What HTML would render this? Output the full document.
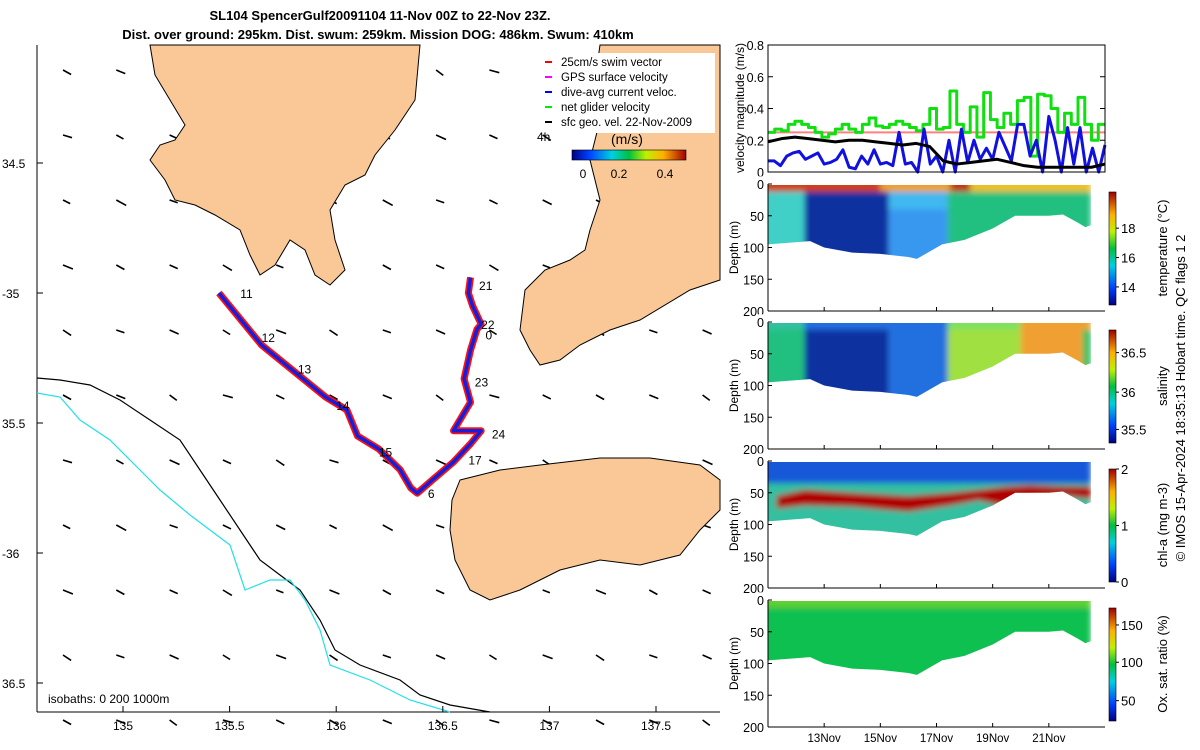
<!DOCTYPE html>
<html><head><meta charset="utf-8"><style>
html,body{margin:0;padding:0;background:#fff;}
svg{display:block;font-family:"Liberation Sans",sans-serif;}
</style></head><body>
<svg id="s" width="1200" height="750" viewBox="0 0 1200 750">
<defs>
<linearGradient id="jet" x1="0" y1="1" x2="0" y2="0">
<stop offset="0" stop-color="#000080"/><stop offset="0.15" stop-color="#0040ff"/><stop offset="0.35" stop-color="#00d0e0"/><stop offset="0.5" stop-color="#00c040"/><stop offset="0.65" stop-color="#c0f000"/><stop offset="0.8" stop-color="#ffb000"/><stop offset="1" stop-color="#a00000"/>
</linearGradient>
<linearGradient id="jeth" x1="0" y1="0" x2="1" y2="0">
<stop offset="0" stop-color="#000080"/><stop offset="0.15" stop-color="#0040ff"/><stop offset="0.35" stop-color="#00d0e0"/><stop offset="0.5" stop-color="#00c040"/><stop offset="0.65" stop-color="#c0f000"/><stop offset="0.8" stop-color="#ffb000"/><stop offset="1" stop-color="#a00000"/>
</linearGradient>
<filter id="soft" x="0" y="0" width="1" height="1"><feGaussianBlur stdDeviation="3"/></filter>
</defs>
<text x="380" y="20" text-anchor="middle" font-size="13" font-weight="bold">SL104 SpencerGulf20091104 11-Nov 00Z to 22-Nov 23Z.</text>
<text x="378" y="39" text-anchor="middle" font-size="13" font-weight="bold">Dist. over ground: 295km. Dist. swum: 259km. Mission DOG: 486km. Swum: 410km</text>
<g id="map"></g>
<g id="right"></g>
<text transform="translate(1185,398) rotate(-90)" text-anchor="middle" font-size="13">© IMOS 15-Apr-2024 18:35:13 Hobart time. QC flags 1  2</text>
</svg>
<script>
const NS="http://www.w3.org/2000/svg";
function mk(p,t,a){const e=document.createElementNS(NS,t);for(const k in a)e.setAttribute(k,a[k]);p.appendChild(e);return e;}
const map=document.getElementById('map'), right=document.getElementById('right');

// ---- map data ----
const lonTicks=[135,135.5,136,136.5,137,137.5];
const latTicks=[-34.5,-35,-35.5,-36,-36.5];
const latLabels=["34.5","-35","35.5","-36","36.5"];
const trackLon=[135.45,135.55,135.65,135.8,135.95,136.05,136.1,136.2,136.3,136.35,136.38,136.45,136.55,136.63,136.68,136.6,136.55,136.63,136.6,136.63,136.66,136.68,136.64,136.62,136.63];
const trackLat=[-35.0,-35.1,-35.2,-35.3,-35.4,-35.45,-35.55,-35.6,-35.68,-35.75,-35.77,-35.72,-35.65,-35.58,-35.53,-35.53,-35.53,-35.42,-35.33,-35.22,-35.14,-35.12,-35.05,-35.0,-34.94];
const wpLabels=["11","12","13","14","15","6","17","24","23","0","22","21"];
const wpLon=[135.55,135.65,135.82,136.0,136.2,136.43,136.62,136.73,136.65,136.7,136.68,136.67];
const wpLat=[-35.0,-35.17,-35.29,-35.43,-35.61,-35.77,-35.64,-35.54,-35.34,-35.16,-35.12,-34.97];
const arrowU=[0.45,0.5,0.4,0.55,0.45];
const arrowV=[-0.25,-0.2,-0.3,-0.15,-0.22];

const X=l=>123+(l-135)*213.2, Y=l=>163+(-34.5-l)*260;
mk(map,'line',{x1:37,y1:45,x2:37,y2:712,stroke:'#000','stroke-width':1,});
mk(map,'line',{x1:37,y1:712,x2:720,y2:712,stroke:'#000','stroke-width':1,});
const ag=mk(map,'g',{});


for(let r=0;r<11;r++)for(let c=0;c<13;c++){
  const x=63+c*53.3,y=70+r*65;
  const u=arrowU[(r+c)%5]*18,v=-arrowV[(r*3+c)%5]*18;
  const l=mk(ag,'line',{x1:x,y1:y,x2:x+u,y2:y+v,stroke:'#000','stroke-width':1.6});
  
  
}
const iso1=mk(map,'polyline',{points:"37,378 60,380 90,385 120,400 150,420 180,440 200,470 220,500 240,530 260,560 280,575 300,590 320,620 335,650 360,665 400,680 420,695 450,705 490,712",fill:'none',stroke:'#000','stroke-width':1.2});

const iso2=mk(map,'polyline',{points:"37,393 60,397 80,420 110,440 140,470 160,490 190,515 230,545 245,590 270,580 290,580 305,600 320,630 330,665 370,680 410,700 450,712",fill:'none',stroke:'#20e0e8','stroke-width':1.2});

const lands=[
 ["eyre-peninsula","150,45 420,45 415,100 395,130 375,155 365,175 345,185 330,210 335,240 345,270 330,285 315,275 305,250 290,240 275,265 260,275 250,255 240,230 215,215 195,205 175,200 165,180 150,160 160,145 175,140 185,125 170,100 155,75"],
 ["yorke-peninsula","600,45 720,45 720,280 690,290 640,320 610,330 580,345 560,360 540,365 530,350 520,330 525,290 545,270 570,260 585,250 590,230 600,200 590,160 600,120 595,80"],
 ["kangaroo-island","460,480 500,470 540,465 600,458 650,458 700,465 720,480 720,510 700,530 680,555 660,560 640,565 600,560 560,570 520,590 490,600 470,590 455,560 450,530 452,500"]];
lands.forEach(L=>{const p=mk(map,'polygon',{points:L[1],fill:'#f9c896',stroke:'#000','stroke-width':1});});
const pts=trackLon.map((l,i)=>X(l)+','+Y(trackLat[i])).join(' ');
const t1=mk(map,'polyline',{points:pts,fill:'none',stroke:'#ff1010','stroke-width':7,'stroke-linejoin':'round'});

const t2=mk(map,'polyline',{points:pts,fill:'none',stroke:'#1020e0','stroke-width':3.5,'stroke-linejoin':'round'});

wpLabels.forEach((s,i)=>{const t=mk(map,'text',{x:X(wpLon[i]),y:Y(wpLat[i])+5,'font-size':12});t.textContent=s;
 });
lonTicks.forEach(l=>{const x=X(l);mk(map,'line',{x1:x,y1:712,x2:x,y2:706,stroke:'#000'});
 const t=mk(map,'text',{x:x,y:730,'text-anchor':'middle','font-size':12});t.textContent=String(l);
 });
latTicks.forEach((l,i)=>{const y=Y(l);mk(map,'line',{x1:37,y1:y,x2:43,y2:y,stroke:'#000'});
 const t=mk(map,'text',{x:2,y:y+5,'font-size':12});t.textContent=latLabels[i];
 });
const legTxt=["25cm/s swim vector","GPS surface velocity","dive-avg current veloc.","net glider velocity","sfc geo. vel. 22-Nov-2009"];
const legCol=["#f00","#f0f","#00f","#0e0","#000"];
mk(map,'rect',{x:540,y:53,width:175,height:80,fill:'#fff'});
legTxt.forEach((s,i)=>{const y=62+i*15;mk(map,'line',{x1:545,y1:y,x2:552,y2:y,stroke:legCol[i],'stroke-width':2});
 const t=mk(map,'text',{x:561,y:y+4,'font-size':11.5});t.textContent=s;
 });
let t=mk(map,'text',{x:537,y:141,'font-size':12});t.textContent='4h';
t=mk(map,'text',{x:611,y:144,'font-size':14});t.textContent='(m/s)';
let cb=mk(map,'rect',{x:572,y:150,width:114,height:10,fill:'url(#jeth)',stroke:'#000','stroke-width':0.6});

[["0",583],["0.2",619],["0.4",665]].forEach(a=>{const t=mk(map,'text',{x:a[1],y:178,'text-anchor':'middle','font-size':12});t.textContent=a[0];});
t=mk(map,'text',{x:48,y:703,'font-size':12});t.textContent='isobaths: 0   200  1000m';

// ---- velocity panel data ----
const green=[0.25,0.27,0.26,0.3,0.32,0.3,0.28,0.25,0.22,0.24,0.27,0.3,0.27,0.25,0.3,0.34,0.29,0.28,0.3,0.32,0.3,0.28,0.26,0.3,0.4,0.27,0.28,0.51,0.3,0.25,0.41,0.22,0.5,0.33,0.28,0.37,0.3,0.45,0.47,0.1,0.49,0.48,0.4,0.25,0.37,0.3,0.47,0.3,0.2,0.3];
const blue=[0.07,0.07,0.04,0.1,0.12,0.13,0.08,0.1,0.12,0.05,0.06,0.08,0.14,0.03,0.02,0.1,0.05,0.14,0.05,0.06,0.04,0.25,0.05,0.06,0.0,0.27,0.05,0.1,0.0,0.2,0.0,0.27,0.06,0.2,0.08,0.15,0.08,0.25,0.16,0.07,0.3,0.3,0.1,0.2,0.0,0.35,0.2,0.0,0.28,0.05,0.28,0.0,0.15,0.0,0.17];
const black=[0.19,0.21,0.22,0.21,0.2,0.19,0.2,0.2,0.19,0.18,0.17,0.18,0.16,0.07,0.05,0.06,0.07,0.08,0.06,0.04,0.03,0.03,0.03,0.03,0.03,0.05];
const swim=[0.25,0.25];
const velTicks=[0,0.2,0.4,0.6,0.8];
const dayTicks=[2,4,6,8,10];
const dayLabels=["13Nov","15Nov","17Nov","19Nov","21Nov"];
const T0=768,T1=1105,NDAYS=12;
const TX=d=>T0+d*(T1-T0)/NDAYS;
const VY=v=>172-v*158.75;
function series(arr,col,w,step,name){
  let p=[];const n=arr.length;
  arr.forEach((v,i)=>{const x0=TX(i*NDAYS/n),x1=TX((i+1)*NDAYS/n);
    if(step){p.push(x0+','+VY(v));p.push(x1+','+VY(v));}else p.push(TX(i*NDAYS/(n-1))+','+VY(v));});
  const l=mk(right,'polyline',{points:p.join(' '),fill:'none',stroke:col,'stroke-width':w,'stroke-linejoin':'round'});
  
}
series(swim,'#ff8080',2,true,'swim-speed-line');
series(green,'#10e010',3,true,'net-glider-velocity-line');
series(blue,'#1010e0',3,false,'dive-avg-current-line');
series(black,'#000',3,false,'geostrophic-velocity-line');
mk(right,'rect',{x:T0,y:45,width:T1-T0,height:127,fill:'none',stroke:'#000','stroke-width':1});
velTicks.forEach(v=>{const y=VY(v);mk(right,'line',{x1:T0,y1:y,x2:T0+5,y2:y,stroke:'#000'});mk(right,'line',{x1:T1,y1:y,x2:T1-5,y2:y,stroke:'#000'});
 const t=mk(right,'text',{x:T0-4,y:y+5,'text-anchor':'end','font-size':12.5});t.textContent=String(v);
 });
t=mk(right,'text',{transform:'translate(744,108) rotate(-90)','text-anchor':'middle','font-size':12});t.textContent='velocity magnitude (m/s)';


// ---- section panels ----
const bottomDay=[0,1.5,2,3,4,5,5.3,6.2,7,8,8.8,10,10.5,11,11.3,11.5];
const bottomDepth=[95,90,100,108,110,115,118,95,88,70,50,50,48,60,68,65];
const panels=[
 {name:'temperature',top:184,label:'temperature (°C)',cbt:[["18",0.32],["16",0.58],["14",0.84]],
  segs:[[-0.3,1.3,'#40d0c8'],[1.3,4.3,'#1030a0'],[4.3,6.4,'#3898f0'],[6.4,11.5,'#20c080']],
  surf:[[-0.3,4,'#d04010'],[4,6.5,'#f0a020'],[6.5,7.2,'#c03010'],[7.2,11.5,'#f0c020']],mid:'#30c8b0'},
 {name:'salinity',top:322,label:'salinity',cbt:[["36.5",0.2],["36",0.55],["35.5",0.88]],
  segs:[[-0.3,1.3,'#20c080'],[1.3,4.3,'#1030a0'],[4.3,6.4,'#2070e0'],[6.4,9,'#a0e040'],[9,11.2,'#f0a030'],[11.2,11.5,'#30c060']],
  surf:[[-0.3,1.3,'#30c0a0'],[1.3,6.4,'#2070e0'],[6.4,9,'#80e060'],[9,11.5,'#f0a030']],mid:null},
 {name:'chlorophyll',top:461,label:'chl-a (mg m-3)',cbt:[["2",0],["1",0.5],["0",1]],
  segs:[[-0.3,11.5,'#30c0a0']],surf:[[-0.3,11.5,'#1858d8']],mid:null,chl:true},
 {name:'oxygen',top:600,label:'Ox. sat. ratio (%)',cbt:[["150",0.15],["100",0.48],["50",0.82]],
  segs:[[-0.3,11.5,'#10c050']],surf:[[-0.3,11.5,'#60d030']],mid:null}];
const chlBandDay=[0.3,1.3,3,5,6.5,7.5,8.5,9.3,10.5,11.5];
const chlBandTop=[55,45,50,55,50,45,40,38,40,40];
const chlBandBot=[75,70,72,80,70,62,72,60,55,60];
panels.forEach(P=>{
  const g=mk(right,'g',{});
  const DY=d=>P.top+d*127/200;
  const f=mk(g,'g',{filter:'url(#soft)'});
  P.segs.forEach(s=>mk(f,'rect',{x:TX(s[0]),y:DY(-10),width:TX(s[1])-TX(s[0]),height:DY(130)-DY(-10),fill:s[2]}));
  if(P.mid)mk(f,'rect',{x:TX(4.3),y:DY(12),width:TX(6.4)-TX(4.3),height:DY(40)-DY(12),fill:'#40b8f0'});
  P.surf.forEach(s=>mk(f,'rect',{x:TX(s[0]),y:DY(-10),width:TX(s[1])-TX(s[0]),height:DY(P.chl?35:12)-DY(-10),fill:s[2]}));
  if(P.chl){const pp=chlBandDay.map((d,i)=>TX(d)+','+DY(chlBandTop[i])).concat(chlBandDay.slice().reverse().map((d,j)=>TX(d)+','+DY(chlBandBot[chlBandDay.length-1-j])));
    mk(f,'polygon',{points:pp.join(' '),fill:'#b00000'});}
  mk(g,'rect',{x:T0-12,y:DY(-12),width:T1-T0+16,height:DY(0)-DY(-12)+1,fill:'#fff'});
  mk(g,'rect',{x:T0-12,y:DY(-12),width:12,height:DY(200)-DY(-12),fill:'#fff'});
  const m=bottomDay.map((d,i)=>TX(d)+','+DY(bottomDepth[i]));
  mk(g,'polygon',{points:[TX(0)+','+DY(200)].concat(m,[TX(11.5)+','+DY(bottomDepth[15]),T1+','+DY(bottomDepth[15]),T1+','+DY(200)]).join(' '),fill:'#fff'});
  mk(g,'rect',{x:TX(11.5),y:DY(0)-2,width:T1-TX(11.5)+4,height:DY(200)-DY(0),fill:'#fff'});
  mk(g,'line',{x1:T0,y1:DY(0),x2:T0,y2:DY(200),stroke:'#000'});
  mk(g,'line',{x1:T0,y1:DY(200),x2:T1,y2:DY(200),stroke:'#000'});
  [0,50,100,150,200].forEach(d=>{mk(g,'line',{x1:T0,y1:DY(d),x2:T0+4,y2:DY(d),stroke:'#000'});
    const t=mk(g,'text',{x:T0-4,y:DY(d)+5,'text-anchor':'end','font-size':12.5});t.textContent=String(d);
    });
  dayTicks.forEach(d=>mk(g,'line',{x1:TX(d),y1:DY(200),x2:TX(d),y2:DY(200)-4,stroke:'#000'}));
  let t=mk(g,'text',{transform:`translate(738,${DY(100)}) rotate(-90)`,'text-anchor':'middle','font-size':12});t.textContent='Depth (m)';
  
  const cb=mk(g,'rect',{x:1109,y:P.top+8,width:7,height:113,fill:'url(#jet)',stroke:'#000','stroke-width':0.6});
  
  P.cbt.forEach(c=>{const y=P.top+8+c[1]*113;mk(g,'line',{x1:1116,y1:y,x2:1119,y2:y,stroke:'#000'});
    const t=mk(g,'text',{x:1121,y:y+5,'font-size':13});t.textContent=c[0];});
  t=mk(g,'text',{transform:`translate(1167,${P.top+64}) rotate(-90)`,'text-anchor':'middle','font-size':13});t.textContent=P.label;
  
});
dayTicks.forEach((d,i)=>{const t=mk(right,'text',{x:TX(d),y:742,'text-anchor':'middle','font-size':11.5});t.textContent=dayLabels[i];
 });
</script>
</body></html>
